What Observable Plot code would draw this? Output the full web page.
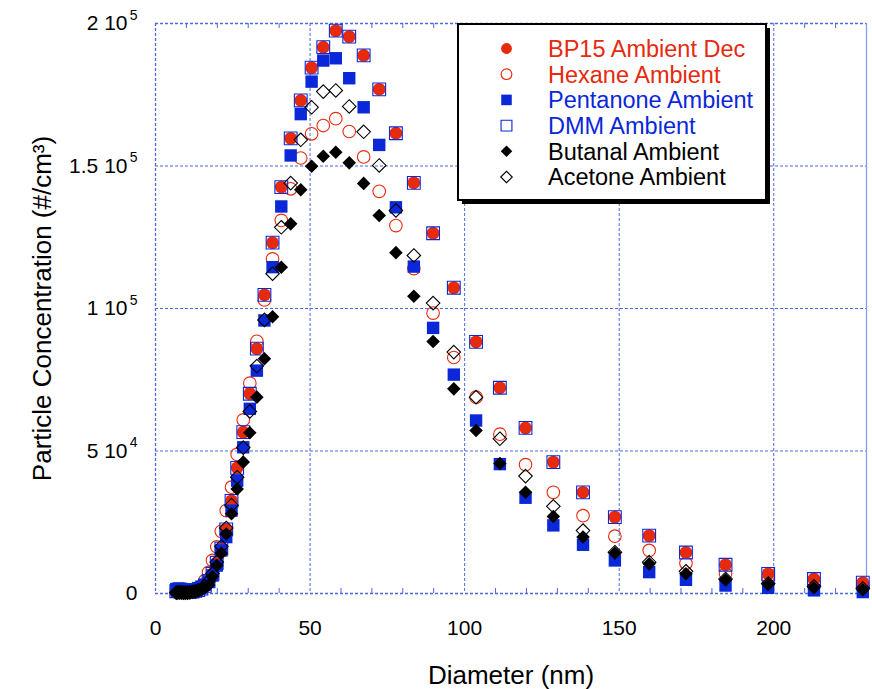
<!DOCTYPE html>
<html><head><meta charset="utf-8">
<script src="https://cdn.jsdelivr.net/npm/d3@7"></script>
<script src="https://cdn.jsdelivr.net/npm/@observablehq/plot@0.6"></script>
<style>
html,body{margin:0;padding:0;background:#fff;}
#chart{position:relative;width:872px;height:689px;}
#chart svg{font-family: Arial, "Liberation Sans", Helvetica, sans-serif; overflow:visible;}
</style></head><body><div id="chart"></div>
<script>
// ---- data ----
const diameters = [6.73, 7.24, 7.78, 8.36, 8.98, 9.65, 10.37, 11.14, 11.97, 12.87, 13.83, 14.86, 15.97, 17.16, 18.44, 19.81, 21.29, 22.88, 24.59, 26.42, 28.39, 30.51, 32.79, 35.24, 37.87, 40.69, 43.73, 46.99, 50.50, 54.27, 58.32, 62.67, 67.34, 72.37, 77.77, 83.57, 89.80, 96.5, 103.7, 111.4, 119.7, 128.7, 138.3, 148.6, 159.7, 171.6, 184.4, 198.2, 213.0, 228.8];
const bp15 = [800, 900, 900, 800, 700, 600, 600, 600, 700, 900, 1200, 1700, 2700, 4300, 6900, 10800, 15800, 22500, 32500, 44100, 56600, 70100, 85900, 104800, 123100, 142600, 159700, 173000, 184500, 191700, 197500, 195400, 188800, 176900, 161500, 144100, 126400, 107300, 88300, 72200, 58100, 46100, 35500, 26800, 20300, 14400, 10100, 6900, 5100, 3800];
const hexane = [500, 500, 500, 400, 400, 400, 400, 500, 700, 1000, 1600, 2700, 4500, 7400, 11600, 16400, 21800, 29100, 37300, 48800, 60900, 73800, 88500, 103000, 117400, 130900, 142000, 152800, 161300, 164200, 166600, 162100, 153200, 141100, 129100, 114000, 98400, 82800, 68900, 55900, 45200, 35500, 27300, 20100, 15100, 10600, 7000, 4800, 3400, 2500];
const pentanone = [1500, 1700, 1700, 1600, 1400, 1300, 1200, 1200, 1300, 1500, 1900, 2400, 3100, 4200, 6300, 9800, 15100, 19800, 29100, 39600, 51300, 64800, 78200, 95800, 114500, 135800, 153700, 168200, 179600, 187000, 187800, 180800, 170600, 157400, 135500, 114700, 93200, 76800, 60700, 45400, 33600, 23900, 17100, 11600, 7500, 4800, 2800, 2000, 1100, 500];
const dmm = [800, 900, 900, 800, 700, 600, 600, 600, 700, 900, 1200, 1700, 2700, 4300, 6900, 10800, 15800, 22500, 32500, 44100, 56600, 70100, 85900, 104800, 123100, 142600, 159700, 173000, 184500, 191700, 197500, 195400, 188800, 176900, 161500, 144100, 126400, 107300, 88300, 72200, 58100, 46100, 35500, 26800, 20300, 14400, 10100, 6900, 5100, 3800];
const butanal = [200, 300, 300, 300, 300, 300, 300, 400, 500, 700, 1000, 1400, 2000, 3000, 6000, 9800, 14100, 20900, 28000, 36700, 46100, 56400, 68900, 82400, 97100, 114500, 129700, 141700, 149900, 153400, 154800, 151100, 143900, 132600, 119600, 104300, 88400, 71800, 57200, 45600, 35500, 27000, 19800, 14200, 10400, 6900, 4800, 3200, 2000, 1300];
const acetone = [300, 400, 400, 400, 300, 300, 300, 400, 600, 800, 1100, 1600, 2500, 4300, 7000, 11000, 16500, 23000, 31000, 40800, 51200, 63900, 79800, 96000, 112200, 128500, 144000, 159200, 170600, 176100, 176500, 170900, 162000, 150200, 134400, 118600, 101900, 84700, 68900, 54300, 41200, 30600, 22100, 14500, 11000, 7800, 5100, 3500, 2500, 1800];

const seriesNames = ["BP15 Ambient Dec", "Hexane Ambient", "Pentanone Ambient", "DMM Ambient", "Butanal Ambient", "Acetone Ambient"];
const xTicks = [0, 50, 100, 150, 200];
const xTickLabels = ["0", "50", "100", "150", "200"];
const xMinor = [10, 20, 30, 40, 60, 70, 80, 90, 110, 120, 130, 140, 160, 170, 180, 190, 210, 220];
const yTicks = [0, 50000, 100000, 150000, 200000];
const yMantissa = ["0", "5 10", "1 10", "1.5 10", "2 10"];
const yExponent = ["", "4", "5", "5", "5"];
const xTitle = "Diameter (nm)";
const yTitle = "Particle Concentration (#/cm³)";

// ---- styles ----
const red = "#e52a0e", blue = "#0a28d8", black = "#000000";
const gridColor = "#4a68e0";
const styles = [
  {symbol: "circle", fill: red, stroke: "none", r: 6.4, text: red},
  {symbol: "circle", fill: "none", stroke: red, r: 6.3, text: red},
  {symbol: "square", fill: blue, stroke: "none", r: 7.0, text: blue},
  {symbol: "square", fill: "none", stroke: blue, r: 7.2, text: blue},
  {symbol: "diamond2", fill: black, stroke: "none", r: 6.1, text: black},
  {symbol: "diamond2", fill: "none", stroke: black, r: 6.1, text: black}
];
const valuesList = [bp15, hexane, pentanone, dmm, butanal, acetone];

const tables = valuesList.map((vals, i) => diameters.map((d, j) => ({d, v: vals[j], s: seriesNames[i]})));
const yTickTable = yTicks.map((v, i) => ({v, m: yMantissa[i], e: yExponent[i]}));
const xTickTable = xTicks.map((v, i) => ({v, t: xTickLabels[i]}));

const dotMarks = tables.map((t, i) => Plot.dot(t, {
  x: "d", y: "v", symbol: styles[i].symbol, r: styles[i].r,
  fill: styles[i].fill, stroke: styles[i].stroke, strokeWidth: 1.1
}));

const plot = Plot.plot({
  width: 872, height: 689,
  marginLeft: 155, marginRight: 6, marginTop: 23, marginBottom: 96,
  x: {domain: [0, 230], axis: null},
  y: {domain: [0, 200000], axis: null},
  style: {fontFamily: "Arial, 'Liberation Sans', Helvetica, sans-serif", background: "white", overflow: "visible"},
  marks: [
    Plot.ruleX(xTicks.slice(1), {stroke: gridColor, strokeDasharray: "3,2", strokeWidth: 1}),
    Plot.ruleY(yTicks.slice(1, -1), {stroke: gridColor, strokeDasharray: "3,2", strokeWidth: 1}),
    Plot.ruleX([0], {stroke: gridColor, strokeDasharray: "3,2", strokeWidth: 1.3}),
    Plot.ruleY([0, 200000], {stroke: gridColor, strokeDasharray: "3,2", strokeWidth: 1.3}),
    Plot.ruleX([230], {stroke: "#8a9cf0", strokeWidth: 1.3}),
    Plot.ruleX(xMinor, {x: d => d, y1: 0, y2: 1750, stroke: gridColor}),
    Plot.ruleX(xMinor, {x: d => d, y1: 200000 - 1750, y2: 200000, stroke: gridColor}),
    ...dotMarks,
    Plot.text(xTickTable, {x: "v", text: "t", frameAnchor: "bottom", lineAnchor: "middle", dy: 35, fontSize: 21, fill: black}),
    Plot.text(yTickTable.filter(d => d.e !== ""), {y: "v", text: "m", frameAnchor: "left", textAnchor: "end", dx: -28, fontSize: 21, fill: black}),
    Plot.text(yTickTable.filter(d => d.e === ""), {y: "v", text: "m", frameAnchor: "left", textAnchor: "end", dx: -18, fontSize: 21, fill: black}),
    Plot.text(yTickTable, {y: "v", text: "e", frameAnchor: "left", textAnchor: "end", dx: -18, dy: -8, fontSize: 14, fill: black}),
    Plot.text([xTitle], {frameAnchor: "bottom", lineAnchor: "middle", dy: 82, fontSize: 26, fill: black}),
    Plot.text([yTitle], {frameAnchor: "left", textAnchor: "middle", lineAnchor: "middle", dx: -113, rotate: -90, fontSize: 26, fill: black})
  ]
});

document.getElementById("chart").appendChild(plot);

// ---- legend (inside the plot area, top right) ----
const svg = d3.select(plot);
const lg = svg.append("g").attr("transform", "translate(458,24)");
lg.append("rect").attr("x", 4).attr("y", 4).attr("width", 308).attr("height", 176).attr("fill", "#000");
lg.append("rect").attr("x", 0).attr("y", 0).attr("width", 308).attr("height", 176).attr("fill", "#fff").attr("stroke", "#000").attr("stroke-width", 2);
const symMap = {circle: d3.symbolCircle, square: d3.symbolSquare, diamond2: d3.symbolDiamond2};
seriesNames.forEach((name, i) => {
  const st = styles[i];
  const cy = 24.5 + i * 25.7;
  const size = Math.PI * Math.pow(st.r * 0.85, 2);
  lg.append("path")
    .attr("d", d3.symbol(symMap[st.symbol], size)())
    .attr("transform", `translate(48.5,${cy})`)
    .attr("fill", st.fill).attr("stroke", st.stroke).attr("stroke-width", 1.1);
  lg.append("text").attr("x", 90).attr("y", cy).attr("dy", "0.36em")
    .attr("text-anchor", "start")
    .attr("font-size", 23.5).attr("fill", st.text).text(name);
});
</script>
</body></html>
